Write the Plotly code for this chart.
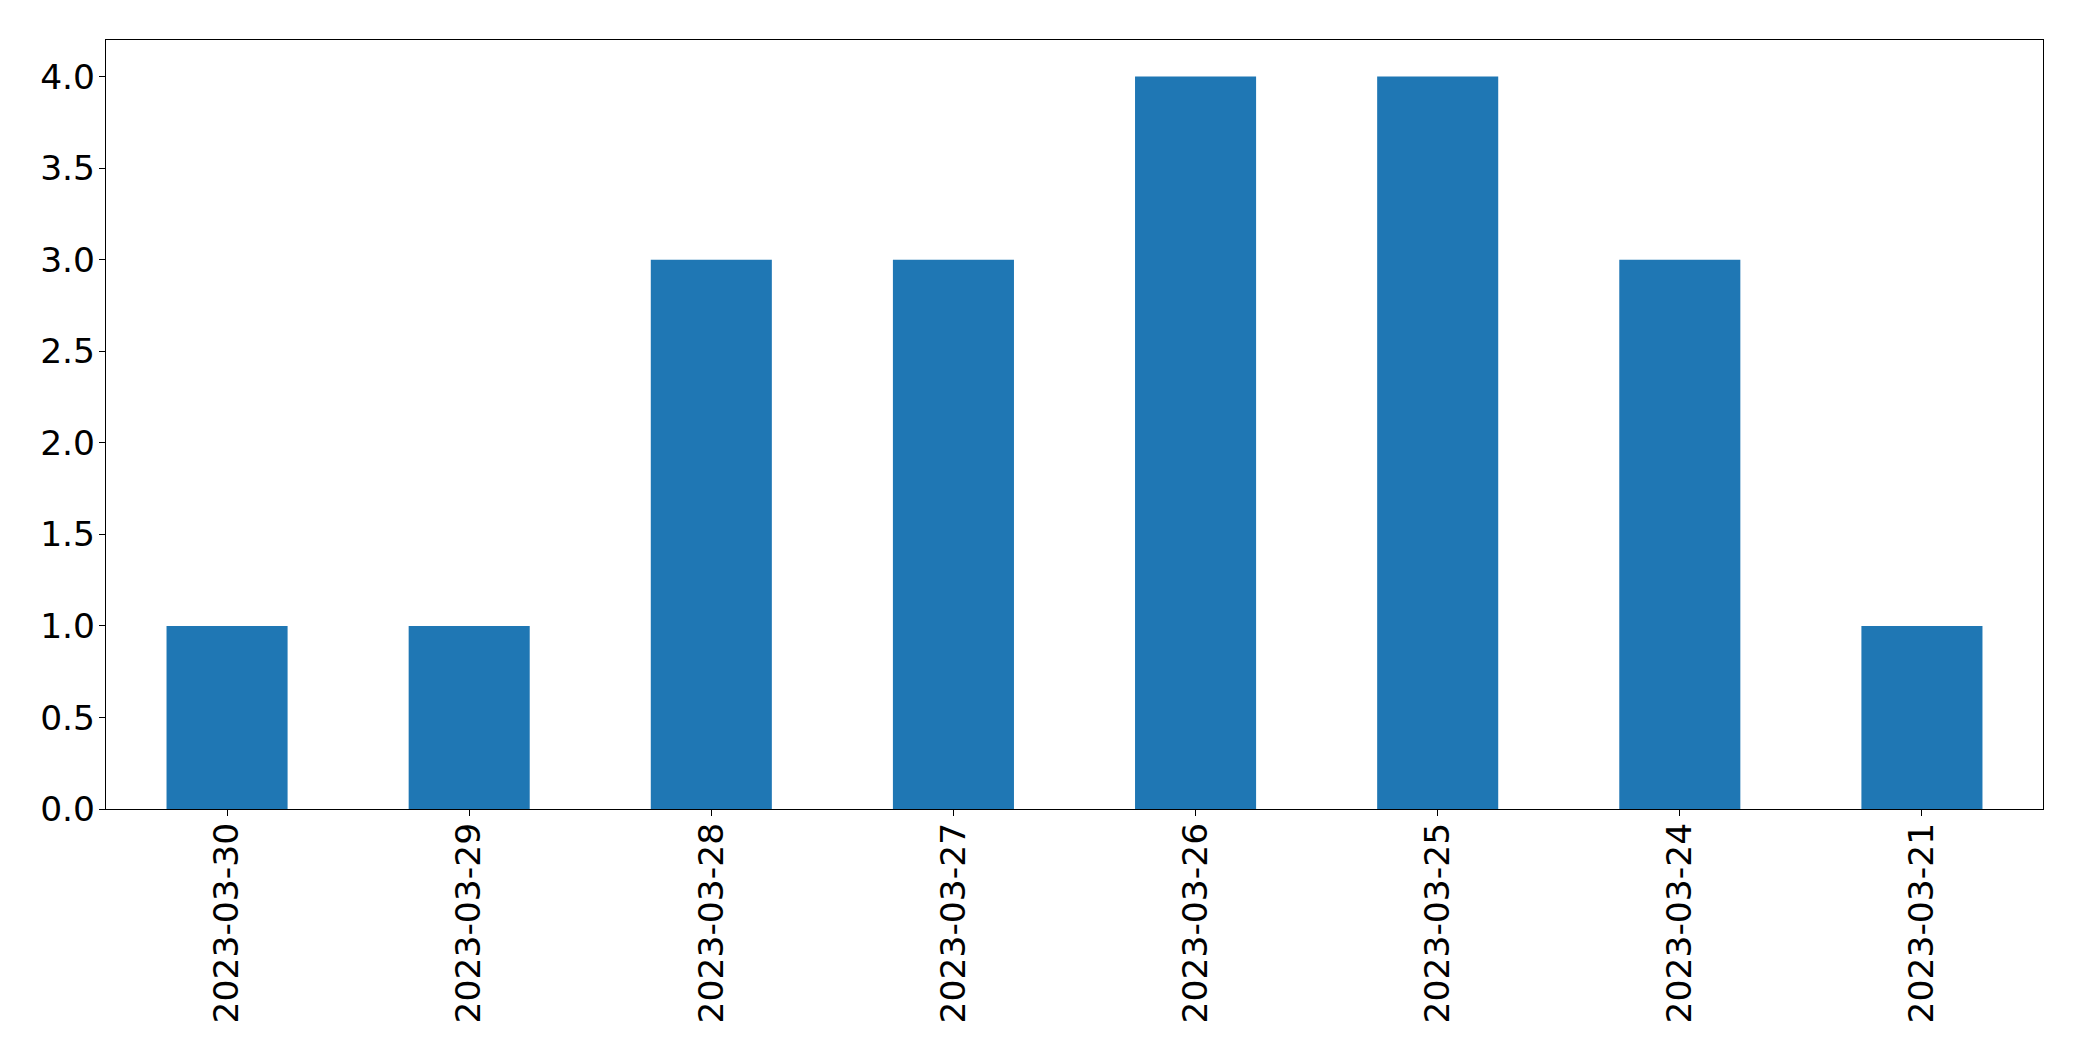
import plotly.graph_objects as go

dates = ["2023-03-30", "2023-03-29", "2023-03-28", "2023-03-27",
         "2023-03-26", "2023-03-25", "2023-03-24", "2023-03-21"]
counts = [1, 1, 3, 3, 4, 4, 3, 1]
y_ticks = [0.0, 0.5, 1.0, 1.5, 2.0, 2.5, 3.0, 3.5, 4.0]

fig = go.Figure(go.Bar(x=dates, y=counts, width=0.5, marker_color="#1f77b4",
                       marker_line_width=0))

font = dict(family="DejaVu Sans", size=34.5, color="black")
fig.update_layout(
    width=2082, height=1061,
    margin=dict(l=98, r=46.5, t=31.5, b=259.5, autoexpand=False),
    plot_bgcolor="white", paper_bgcolor="white",
    showlegend=False,
    font=font,
)
fig.update_xaxes(type="category", range=[-0.5, 7.5], tickangle=-90,
                 showline=True, linecolor="black", linewidth=1.2, mirror=True,
                 ticks="outside", ticklen=6, tickcolor="black", tickwidth=1.2,
                 showgrid=False, zeroline=False, tickfont=font, ticklabelstandoff=-7)
fig.update_yaxes(range=[0, 4.2], tickvals=y_ticks,
                 ticktext=[f"{v:.1f}" for v in y_ticks],
                 showline=True, linecolor="black", linewidth=1.2, mirror=True,
                 ticks="outside", ticklen=6, tickcolor="black", tickwidth=1.2,
                 showgrid=False, zeroline=False, tickfont=font, ticklabelstandoff=-3)

fig.write_html("out.html")
